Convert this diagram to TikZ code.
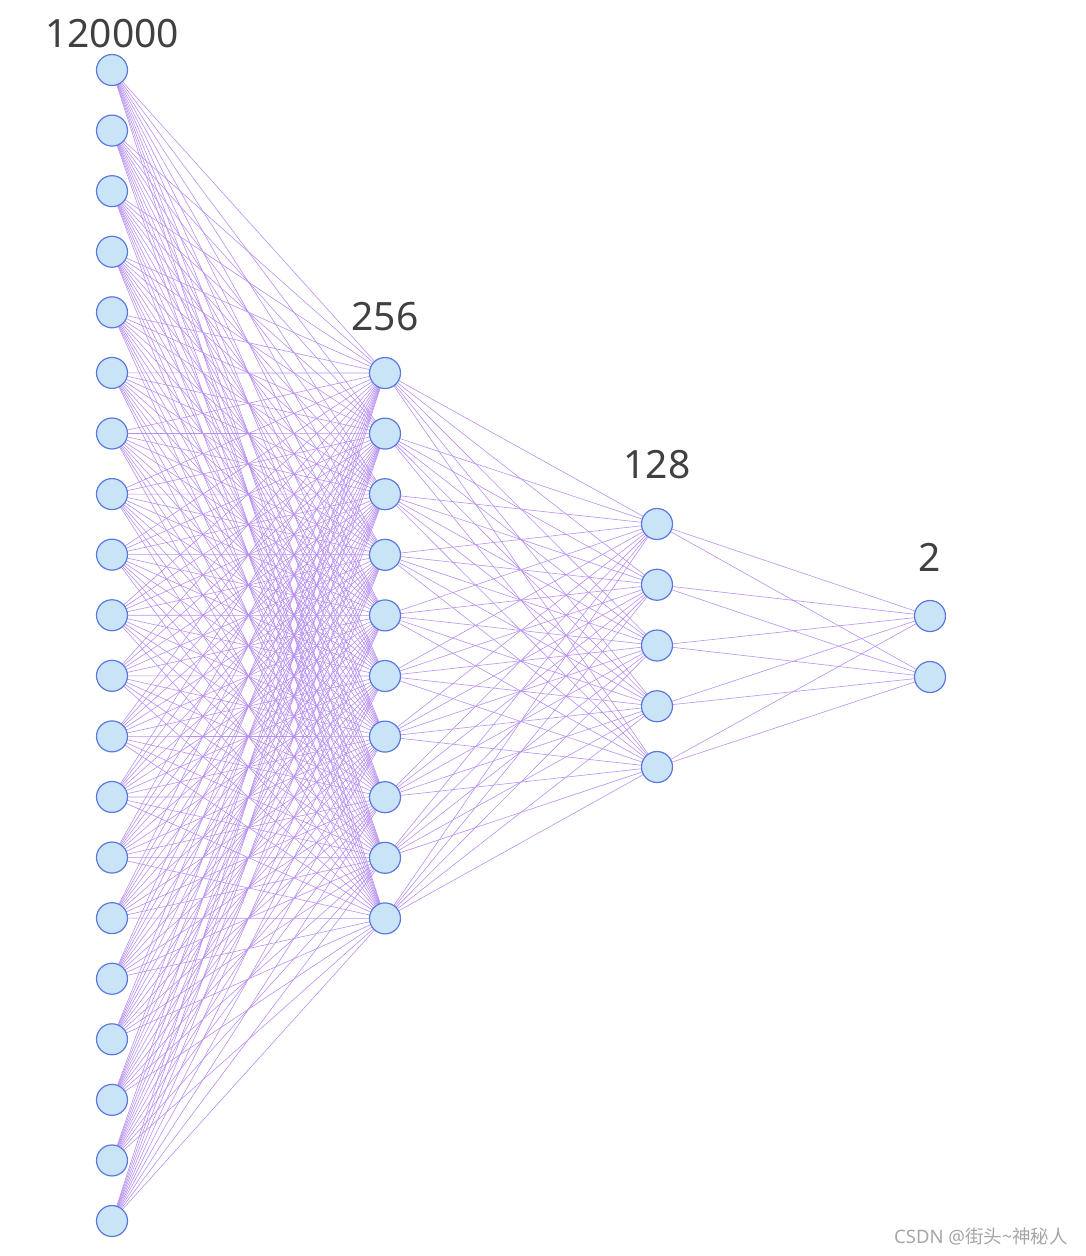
\documentclass[tikz,border=0pt]{standalone}
\usepackage{fontspec}
\setmainfont{Noto Sans}
\newfontfamily\cjk{Noto Sans CJK SC}
\definecolor{nfill}{HTML}{C8E4F6}
\definecolor{nline}{HTML}{5C78E0}
\definecolor{eline}{HTML}{B890F2}
\definecolor{ltext}{HTML}{404040}
\pgfdeclarelayer{bg}
\pgfsetlayers{bg,main}
\tikzset{
  neuron/.style={circle,draw=nline,fill=nfill,line width=1.2pt,minimum size=31pt,inner sep=0pt},
  edge/.style={draw=eline,line width=0.6pt},
  lbl/.style={text=ltext,font=\fontsize{39}{43}\selectfont,inner sep=0pt}
}
\begin{document}
\begin{tikzpicture}[x=1pt,y=-1pt]
\useasboundingbox (0,0) rectangle (1086,1256);
\foreach \i in {0,...,19} \node[neuron] (a\i) at (112,{70+\i*60.58}) {};
\foreach \i in {0,...,9} \node[neuron] (b\i) at (385,{373+\i*60.6}) {};
\foreach \i in {0,...,4} \node[neuron] (c\i) at (657,{524+\i*60.75}) {};
\foreach \i in {0,1} \node[neuron] (d\i) at (930,{616+\i*61}) {};
\begin{pgfonlayer}{bg}
\foreach \i in {0,...,19} \foreach \j in {0,...,9} \draw[edge] (a\i.center) -- (b\j.center);
\foreach \i in {0,...,9} \foreach \j in {0,...,4} \draw[edge] (b\i.center) -- (c\j.center);
\foreach \i in {0,...,4} \foreach \j in {0,1} \draw[edge] (c\i.center) -- (d\j.center);
\end{pgfonlayer}
\node[lbl] (t1) at (112,34) {120000};
\node[lbl] (t2) at (385,317) {256};
\node[lbl] (t3) at (657,465) {128};
\node[lbl] (t4) at (930,557) {2};
\node[anchor=base east,text=black!35,font=\fontsize{18.5}{21}\selectfont,inner sep=0pt] (wm) at (1068,1243) {CSDN @{\cjk 街头\textasciitilde 神秘人}};
\end{tikzpicture}
\end{document}
